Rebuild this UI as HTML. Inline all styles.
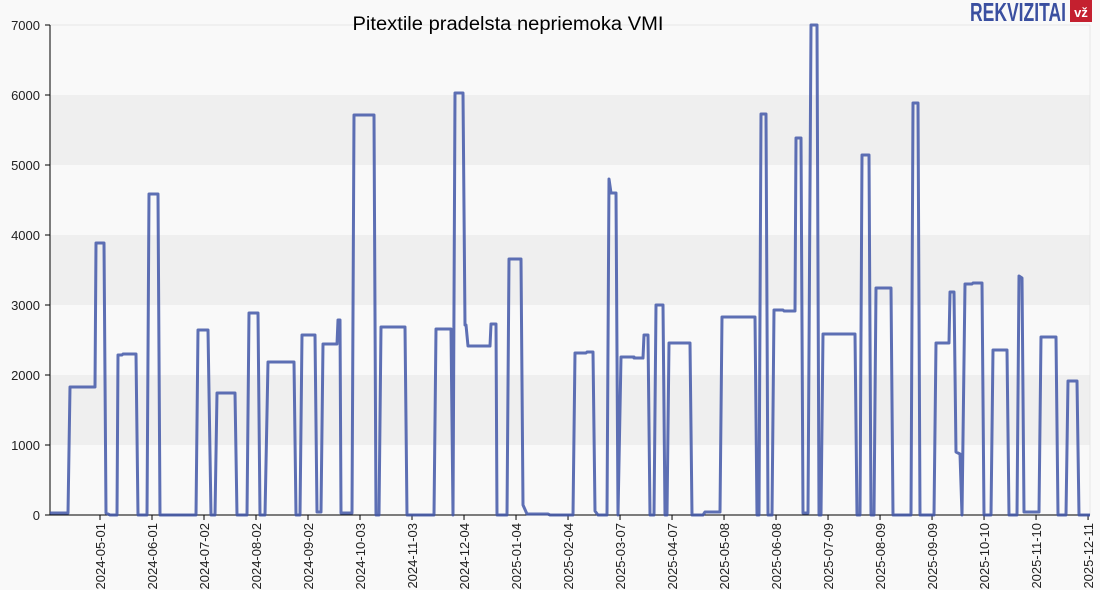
<!DOCTYPE html>
<html><head><meta charset="utf-8"><style>
body{margin:0;background:#f9f9f9;}
svg{display:block;font-family:"Liberation Sans",sans-serif;}
</style></head><body>
<svg width="1100" height="590" viewBox="0 0 1100 590">
<rect width="1100" height="590" fill="#f9f9f9"/>
<rect x="50" y="95" width="1040" height="70" fill="#efefef"/>
<rect x="50" y="235" width="1040" height="70" fill="#efefef"/>
<rect x="50" y="375" width="1040" height="70" fill="#efefef"/>
<line x1="50" y1="25" x2="1090" y2="25" stroke="#e6e6e6"/>
<line x1="1090" y1="25" x2="1090" y2="515" stroke="#e6e6e6"/>
<text x="508" y="30" font-size="19" text-anchor="middle" fill="#000" textLength="311" lengthAdjust="spacingAndGlyphs">Pitextile pradelsta nepriemoka VMI</text>
<text x="1066" y="21" font-size="26" font-weight="bold" fill="#3a4fa0" text-anchor="end" textLength="96" lengthAdjust="spacingAndGlyphs">REKVIZITAI</text>
<rect x="1070" y="0" width="22" height="22" fill="#c4202f"/>
<text x="1081" y="17" font-size="13" font-weight="bold" fill="#fff" text-anchor="middle">vž</text>
<g font-size="13" fill="#222" text-anchor="end">
<text x="40" y="30">7000</text><text x="40" y="100">6000</text><text x="40" y="170">5000</text><text x="40" y="240">4000</text><text x="40" y="310">3000</text><text x="40" y="380">2000</text><text x="40" y="450">1000</text><text x="40" y="520">0</text>
</g>
<g stroke="#000" stroke-width="1">
<line x1="50" y1="25" x2="50" y2="515"/><line x1="45" y1="515" x2="1090" y2="515"/>
<line x1="45" y1="25" x2="50" y2="25"/><line x1="45" y1="95" x2="50" y2="95"/><line x1="45" y1="165" x2="50" y2="165"/><line x1="45" y1="235" x2="50" y2="235"/><line x1="45" y1="305" x2="50" y2="305"/><line x1="45" y1="375" x2="50" y2="375"/><line x1="45" y1="445" x2="50" y2="445"/>
</g>
<g id="xt" font-size="13" fill="#222" text-anchor="end"></g>
<polyline fill="none" stroke="#4257a8" stroke-opacity="0.85" stroke-width="3" stroke-linejoin="round" points="
50,513 68,513 70,387 95,387 96,243 104,243 106,513 110,515 117,515 118,355 122,355 123,354 136,354 138,515 147,515 149,194 158,194 160,515 196,515 198,330 208,330 211,515 215,515 217,393 235,393 237,515 247,515 249,313 258,313 260,515 265,515 268,362 294,362 296,515 300,515 302,335 315,335 317,512 321,512 323,344 337,344 338,320 340,320 341,513 352,513 354,115 374,115 376,515 379,515 381,327 405,327 407,515 434,515 436,329 451,329 453,515 455,93 463,93 465,325 466,325 468,346 490,346 491,324 496,324 497,515 507,515 509,259 521,259 523,505 527,514 548,514 550,515 573,515 575,353 586,353 587,352 593,352 595,511 598,515 607,515 609,179 611,193 616,193 618,515 621,357 634,357 634,358 643,358 644,335 648,335 650,515 654,515 656,305 663,305 665,515 667,515 669,343 690,343 692,515 703,515 705,512 720,512 722,317 755,317 757,515 759,515 761,114 766,114 768,515 772,515 774,310 783,310 784,311 795,311 796,138 801,138 803,513 808,513 811,25 817,25 819,515 821,515 823,334 855,334 857,515 860,515 862,155 869,155 871,515 874,515 876,288 891,288 893,515 911,515 913,103 918,103 920,515 934,515 936,343 949,343 950,292 954,292 956,452 960,454 962,515 965,284 972,284 973,283 982,283 984,515 991,515 993,350 1007,350 1009,515 1017,515 1019,276 1022,278 1024,512 1039,512 1041,337 1056,337 1058,515 1066,515 1068,381 1077,381 1079,515 1090,515"/>
<script>
var g=document.getElementById('xt'),lab=["2024-05-01","2024-06-01","2024-07-02","2024-08-02","2024-09-02","2024-10-03","2024-11-03","2024-12-04","2025-01-04","2025-02-04","2025-03-07","2025-04-07","2025-05-08","2025-06-08","2025-07-09","2025-08-09","2025-09-09","2025-10-10","2025-11-10","2025-12-11"];
var base=new Date("2024-05-01");
lab.forEach(function(l){var d=(new Date(l)-base)/864e5;var x=100+d*1.6775;
var t=document.createElementNS("http://www.w3.org/2000/svg","text");t.setAttribute("transform","translate("+(x+5)+",523) rotate(-90)");t.textContent=l;g.appendChild(t);
var ln=document.createElementNS("http://www.w3.org/2000/svg","line");ln.setAttribute("x1",x);ln.setAttribute("x2",x);ln.setAttribute("y1",515);ln.setAttribute("y2",520);ln.setAttribute("stroke","#000");g.appendChild(ln);});
</script>
</svg>
</body></html>
